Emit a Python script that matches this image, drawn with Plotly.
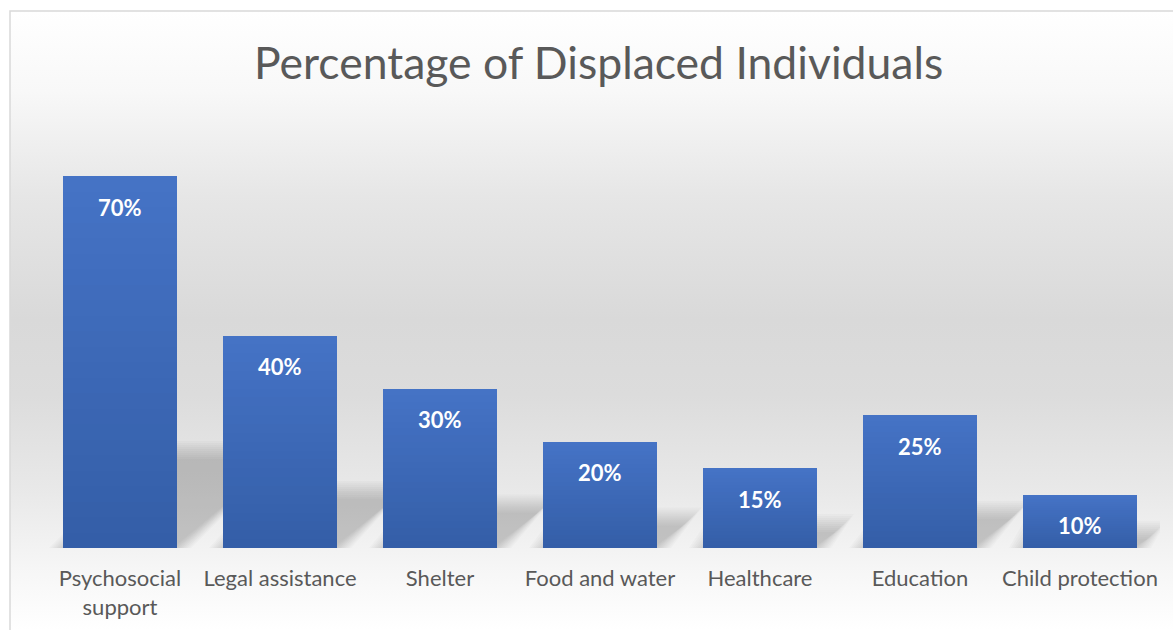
import plotly.graph_objects as go
import urllib.parse

# --- chart data -------------------------------------------------------------
categories = ["Psychosocial<br>support", "Legal assistance", "Shelter",
              "Food and water", "Healthcare", "Education", "Child protection"]
values = [70, 40, 30, 20, 15, 25, 10]
value_labels = ["70%", "40%", "30%", "20%", "15%", "25%", "10%"]
title_text = "Percentage of Displaced Individuals"

# --- layout geometry --------------------------------------------------------
W, H = 1173, 630
M_L, M_R, M_T, M_B = 40, 13, 123, 82
Y_MAX = 80
BAR_WIDTH = 0.715
plot_w = W - M_L - M_R
plot_h = H - M_T - M_B
px_per_cat = plot_w / len(categories)
px_per_unit = plot_h / Y_MAX

FONT = "Lato, 'Open Sans', sans-serif"
TEXT_GREY = "#595959"
TOP_BLUE = (0x45, 0x73, 0xC6)
BOTTOM_BLUE = (0x34, 0x5E, 0xA7)

fig = go.Figure()

# bars built from stacked slices so each column shades from light top to dark base
N_SLICES = 24
for k in range(N_SLICES):
    t = (k + 0.5) / N_SLICES
    col = tuple(round(BOTTOM_BLUE[c] + (TOP_BLUE[c] - BOTTOM_BLUE[c]) * t) for c in range(3))
    fig.add_trace(go.Bar(
        x=list(range(len(categories))),
        y=[v / N_SLICES for v in values],
        width=BAR_WIDTH,
        marker=dict(color="rgb(%d,%d,%d)" % col, line=dict(width=0)),
        hoverinfo="skip",
        showlegend=False,
    ))

# perspective shadows: flattened, skewed copy of each bar, softened by layering
shapes = []
SHADOW_SCALE = 0.25
SKEW = 1.15
for i, v in enumerate(values):
    h = v * SHADOW_SCALE
    dx = SKEW * h * px_per_unit / px_per_cat
    for grow in range(-4, 16, 2):
        ex = grow / px_per_cat
        ey = grow / px_per_unit
        x0 = i - BAR_WIDTH / 2 - ex
        x1 = i + BAR_WIDTH / 2 + ex
        top = h + ey
        if top <= 0:
            continue
        path = "M %f,0 L %f,0 L %f,%f L %f,%f Z" % (
            x0, x1, x1 + dx, top, x0 + dx, top)
        shapes.append(dict(type="path", path=path, xref="x", yref="y",
                           fillcolor="rgba(0,0,0,0.02)", line=dict(width=0),
                           layer="below"))

# chart frame (left and top edges visible)
def px_x(px):
    return (px - M_L) / plot_w

def px_y(py):
    return (H - M_B - py) / plot_h

shapes.append(dict(type="rect", xref="paper", yref="paper",
                   x0=px_x(10), x1=px_x(W + 20), y0=px_y(H + 20), y1=px_y(11),
                   line=dict(color="#d9d9d9", width=1.5), fillcolor="rgba(0,0,0,0)",
                   layer="above"))

# soft vertical gradient behind the chart
svg = ("<svg xmlns='http://www.w3.org/2000/svg' width='100' height='100' preserveAspectRatio='none'>"
       "<defs><linearGradient id='g' x1='0' y1='0' x2='0' y2='1'>"
       "<stop offset='0' stop-color='#ffffff'/>"
       "<stop offset='0.13' stop-color='#f8f8f8'/>"
       "<stop offset='0.30' stop-color='#e6e6e6'/>"
       "<stop offset='0.50' stop-color='#d9d9d9'/>"
       "<stop offset='0.62' stop-color='#dcdcdc'/>"
       "<stop offset='0.78' stop-color='#e9e9e9'/>"
       "<stop offset='0.90' stop-color='#f6f6f6'/>"
       "<stop offset='1' stop-color='#ffffff'/>"
       "</linearGradient></defs>"
       "<rect width='100' height='100' fill='url(#g)'/></svg>")
bg_src = "data:image/svg+xml;charset=utf-8," + urllib.parse.quote(svg)

images = [dict(source=bg_src, xref="paper", yref="paper",
               x=px_x(10), y=px_y(11), sizex=px_x(W + 20) - px_x(10),
               sizey=px_y(11) - px_y(H), sizing="stretch",
               xanchor="left", yanchor="top", layer="below")]

# value labels inside the top of each bar
annotations = []
for i, (v, lab) in enumerate(zip(values, value_labels)):
    annotations.append(dict(x=i, y=v, xref="x", yref="y", text="<b>%s</b>" % lab,
                            showarrow=False, yanchor="middle", yshift=-31,
                            font=dict(family=FONT, size=22, color="white")))

annotations.append(dict(x=px_x(598), y=px_y(62), xref="paper", yref="paper",
                        text=title_text, showarrow=False,
                        xanchor="center", yanchor="middle",
                        font=dict(family=FONT, size=44.5, color=TEXT_GREY)))

fig.update_layout(
    width=W, height=H,
    margin=dict(l=M_L, r=M_R, t=M_T, b=M_B, pad=0, autoexpand=False),
    barmode="stack",
    bargap=1 - BAR_WIDTH,
    paper_bgcolor="white",
    plot_bgcolor="rgba(0,0,0,0)",
    shapes=shapes,
    images=images,
    annotations=annotations,
    showlegend=False,
    xaxis=dict(tickvals=list(range(len(categories))), ticktext=categories,
               range=[-0.5, len(categories) - 0.5], automargin=False,
               showgrid=False, zeroline=False, showline=False, ticks="",
               tickfont=dict(family=FONT, size=22, color=TEXT_GREY),
               ticklabelstandoff=15, fixedrange=True),
    yaxis=dict(range=[0, Y_MAX], visible=False, automargin=False, fixedrange=True),
)

fig.write_html("out.html", config={"displayModeBar": False})
